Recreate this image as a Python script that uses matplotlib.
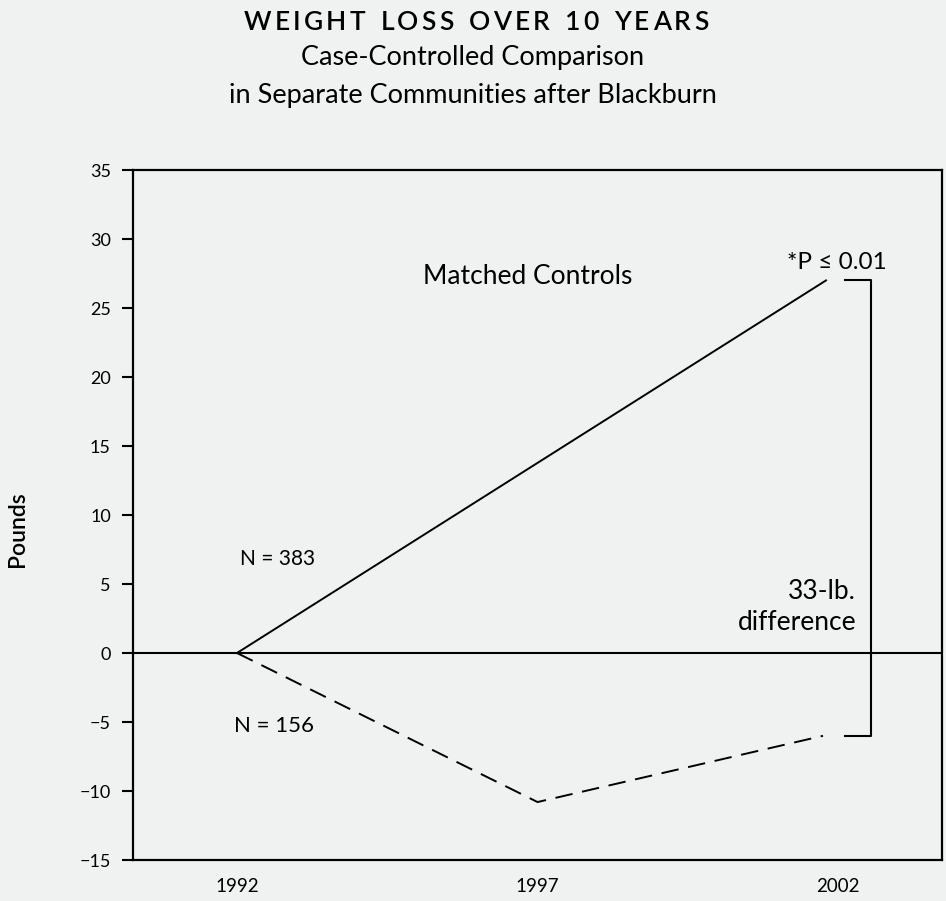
import matplotlib.pyplot as plt

# data
years = [1992, 1997, 2002]
ctrl_x = [1992, 2001.8]
ctrl_y = [0, 27]
bb_x = [1992, 1997, 2001.75]
bb_y = [0, -10.8, -6]
yticks = [35, 30, 25, 20, 15, 10, 5, 0, -5, -10, -15]
title = 'WEIGHT LOSS OVER 10 YEARS'

bg = '#f0f2f1'
plt.rcParams['font.family'] = ['Lato', 'DejaVu Sans']

fig = plt.figure(figsize=(9.46, 9.01), dpi=100, facecolor=bg)
ax = fig.add_axes([0.1406, 0.0455, 0.8552, 0.7658], facecolor=bg)

ax.plot(ctrl_x, ctrl_y, color='k', lw=1.4)
ax.plot(bb_x, bb_y, color='k', lw=1.4, dashes=(9, 5))
ax.axhline(0, color='k', lw=1.5)

# bracket showing the difference
bx0, bx1 = 2002.12, 2002.55
ax.plot([bx0, bx1, bx1, bx0], [ctrl_y[-1], ctrl_y[-1], bb_y[-1], bb_y[-1]], color='k', lw=1.5)

ax.set_xlim(1990.27, 2003.73)
ax.set_ylim(-15, 35)
ax.set_xticks(years)
ax.set_xticklabels([str(y) for y in years])
ax.set_yticks(yticks)
ax.set_yticklabels([str(t).replace('-', '\u2212') for t in yticks])
ax.tick_params(axis='x', length=0, pad=13, labelsize=13.5)
ax.tick_params(axis='y', length=8, width=1.5, pad=8, labelsize=13)
for s in ax.spines.values():
    s.set_linewidth(1.6)

fig.text(18 / 946, 1 - 529 / 901, 'Pounds', fontsize=16.5, fontweight='semibold',
         rotation=90, ha='center', va='center')

ax.text(1996.83, 27.3, 'Matched Controls', fontsize=19, ha='center', va='center')
ax.text(2001.98, 28.3, '*P \u2264 0.01', fontsize=17.5, ha='center', va='center')
ax.text(1992.67, 6.8, 'N = 383', fontsize=15, ha='center', va='center')
ax.text(1992.62, -5.3, 'N = 156', fontsize=16, ha='center', va='center')
ax.text(2002.3, 3.3, '33-lb.\ndifference', fontsize=19, ha='right', va='center',
        linespacing=1.3)

# title with letter spacing: place characters one by one
r = fig.canvas.get_renderer()
tsize = 19
track = 3.3
chars = []
widths = []
for c in title:
    t = fig.text(0, 0, c if c != ' ' else 'I', fontsize=tsize, fontweight='semibold')
    w = t.get_window_extent(r).width
    if c == ' ':
        w *= 1.1
    t.remove()
    chars.append(c)
    widths.append(w)
total = sum(widths) + track * (len(chars) - 1)
x = 476 - total / 2
for c, w in zip(chars, widths):
    if c != ' ':
        fig.text(x / 946, 1 - 23 / 901, c, fontsize=tsize, fontweight='semibold',
                 ha='left', va='center')
    x += w + track

fig.text(0.5, 1 - 58 / 901, 'Case-Controlled Comparison', fontsize=19.5, ha='center', va='center')
fig.text(0.5, 1 - 95 / 901, 'in Separate Communities after Blackburn', fontsize=19.5,
         ha='center', va='center')

fig.savefig('out.png', dpi=100, facecolor=bg)
